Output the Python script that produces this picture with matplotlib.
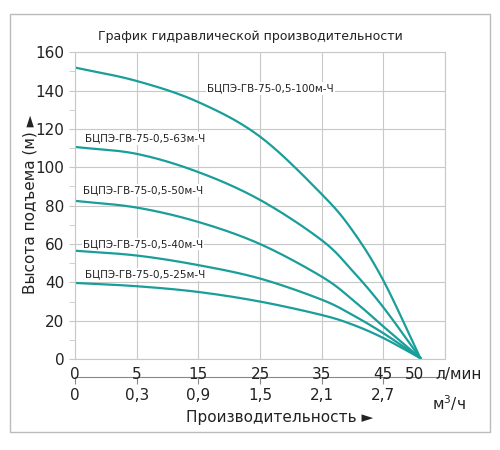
import matplotlib
matplotlib.use("Agg")
import matplotlib.pyplot as plt
import numpy as np
from matplotlib.patches import Rectangle

u = [0, 1, 2, 3, 4, 4.5, 5, 5.6]
h100 = [152, 145, 134, 116, 86, 67, 41, 0.5]
h63 = [110.6, 107, 97.5, 83, 62, 46, 27, 0.5]
h50 = [82.5, 79, 71.5, 60, 43, 31, 17, 0.5]
h40 = [56.5, 54, 49, 42, 31, 23, 13.5, 0.5]
h25 = [39.7, 38, 35, 30, 23, 18, 11, 0.5]
names = ["БЦПЭ-ГВ-75-0,5-100м-Ч", "БЦПЭ-ГВ-75-0,5-63м-Ч", "БЦПЭ-ГВ-75-0,5-50м-Ч",
         "БЦПЭ-ГВ-75-0,5-40м-Ч", "БЦПЭ-ГВ-75-0,5-25м-Ч"]
label_pos = [(2.14, 141), (0.16, 115), (0.13, 88), (0.13, 60), (0.16, 44)]
lpm_pos = [0, 1, 2, 3, 4, 5, 5.5]
lpm_lab = ["0", "5", "15", "25", "35", "45", "50"]
m3_pos = [0, 1, 2, 3, 4, 5]
m3_lab = ["0", "0,3", "0,9", "1,5", "2,1", "2,7"]


def smooth(x, y, n=20):
    # Catmull-Rom through the read points
    x = np.asarray(x, float); y = np.asarray(y, float)
    P = np.column_stack([x, y])
    P = np.vstack([2 * P[0] - P[1], P, 2 * P[-1] - P[-2]])
    out = []
    t = np.linspace(0, 1, n, endpoint=False)[:, None]
    for i in range(1, len(P) - 2):
        p0, p1, p2, p3 = P[i - 1], P[i], P[i + 1], P[i + 2]
        seg = 0.5 * ((2 * p1) + (-p0 + p2) * t + (2 * p0 - 5 * p1 + 4 * p2 - p3) * t ** 2
                     + (-p0 + 3 * p1 - 3 * p2 + p3) * t ** 3)
        out.append(seg)
    out.append(P[-2][None, :])
    s = np.vstack(out)
    return s[:, 0], s[:, 1]


color = "#1a9e9a"
fig = plt.figure(figsize=(5, 4.5), dpi=100)
fig.patches.append(Rectangle((0.02, 0.04), 0.96, 0.93, transform=fig.transFigure,
                             fill=False, edgecolor="#bbbbbb", lw=1))
ax = fig.add_axes([0.15, 0.202, 0.74, 0.682])
ax.set_xlim(0, 6)
ax.set_ylim(0, 160)
ax.set_xticks(range(7))
ax.set_yticks(range(0, 161, 20))
ax.set_yticks(range(10, 160, 20), minor=True)
ax.grid(True, color="#c8c8c8", lw=0.8)
for s in ax.spines.values():
    s.set_color("#c8c8c8")
ax.tick_params(axis="x", length=0, labelbottom=False)
ax.tick_params(axis="y", which="both", colors="#c8c8c8", labelcolor="#222222", labelsize=11, length=4)

for hs in [h100, h63, h50, h40, h25]:
    xs, ys = smooth(u, hs)
    ax.plot(xs, ys, color=color, lw=1.6)
for name, (lx, ly) in zip(names, label_pos):
    ax.text(lx, ly, name, fontsize=7.5, va="center", ha="left", color="#222222",
            bbox=dict(facecolor="white", edgecolor="none", pad=1))

for p, l in zip(lpm_pos, lpm_lab):
    ax.text(p, -4, l, transform=ax.transData, ha="center", va="top", fontsize=11, color="#222222", clip_on=False)
ax.text(5.85, -4, "л/мин", ha="left", va="top", fontsize=11, color="#222222", clip_on=False)

sec = ax.secondary_xaxis(-0.059)
sec.set_xticks(m3_pos)
sec.set_xticklabels(m3_lab)
sec.tick_params(length=5, colors="#888888", labelcolor="#222222", labelsize=11, pad=3)
sec.spines["bottom"].set_color("#888888")
fig.text(0.865, 0.105, "м$^3$/ч", fontsize=11, color="#222222", ha="left", va="center")
fig.text(0.56, 0.072, "Производительность ►", fontsize=11, color="#222222", ha="center", va="center")
fig.text(0.06, 0.545, "Высота подъема (м) ►", rotation=90, fontsize=11, color="#222222", ha="center", va="center")
fig.text(0.5, 0.918, "График гидравлической производительности", fontsize=9, color="#222222", ha="center", va="center")

fig.savefig("out.png", dpi=100)
